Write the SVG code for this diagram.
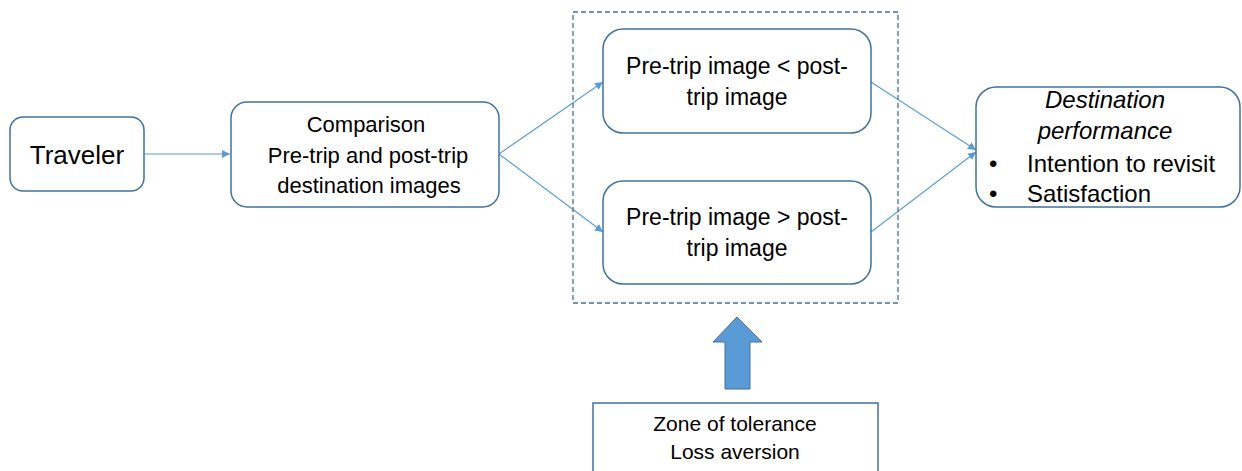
<svg xmlns="http://www.w3.org/2000/svg" width="1242" height="471" viewBox="0 0 1242 471">
<style>
.box{fill:#fff;stroke:#41719c;stroke-width:1.5}
.t{font-family:"Liberation Sans",Arial,sans-serif;fill:#000;text-anchor:middle}
.c{fill:none;stroke:#5b9bd5;stroke-width:1.1}
</style>
<defs>
<marker id="ah" viewBox="0 0 10 10" refX="10" refY="5" markerWidth="8" markerHeight="8" markerUnits="userSpaceOnUse" orient="auto">
<path d="M0,0 L10,5 L0,10 z" fill="#5b9bd5"/>
</marker>
</defs>
<rect width="1242" height="471" fill="#fff"/>
<g id="connectors">
<line class="c" x1="144" y1="154" x2="230" y2="154" marker-end="url(#ah)"/>
<line class="c" x1="499" y1="154" x2="603" y2="82" marker-end="url(#ah)"/>
<line class="c" x1="499" y1="154" x2="603" y2="232" marker-end="url(#ah)"/>
<line class="c" x1="871" y1="82" x2="976" y2="150" marker-end="url(#ah)"/>
<line class="c" x1="871" y1="232" x2="976" y2="152" marker-end="url(#ah)"/>
<path d="M737,317 L762,342 L750,342 L750,389 L725,389 L725,342 L713,342 Z" fill="#5b9bd5" stroke="#41719c" stroke-width="1"/>
</g>
<g id="group-dashed">
<rect x="573" y="12" width="325" height="291" fill="none" stroke="#41719c" stroke-width="1.3" stroke-dasharray="5,3"/>
</g>
<g id="traveler">
<rect class="box" x="10" y="117" width="134" height="74" rx="13"/>
<text class="t" x="77" y="164" font-size="26">Traveler</text>
</g>
<g id="comparison">
<rect class="box" x="231" y="102" width="268" height="105" rx="16"/>
<text class="t" x="366" y="132" font-size="22">Comparison</text>
<text class="t" x="368" y="163" font-size="22">Pre-trip and post-trip</text>
<text class="t" x="369" y="193" font-size="22">destination images</text>
</g>
<g id="pre-less">
<rect class="box" x="603" y="29" width="268" height="104" rx="20"/>
<text class="t" x="737" y="74" font-size="23">Pre-trip image &lt; post-</text>
<text class="t" x="737" y="105" font-size="23">trip image</text>
</g>
<g id="pre-greater">
<rect class="box" x="603" y="181" width="268" height="103" rx="20"/>
<text class="t" x="737" y="225" font-size="23">Pre-trip image &gt; post-</text>
<text class="t" x="737" y="256" font-size="23">trip image</text>
</g>
<g id="destination">
<rect class="box" x="976" y="87" width="264" height="120" rx="20"/>
<text class="t" x="1105" y="108" font-size="24" font-style="italic">Destination</text>
<text class="t" x="1105" y="139" font-size="24" font-style="italic">performance</text>
<text x="989" y="172" font-size="24" font-family="Liberation Sans,Arial,sans-serif">•</text>
<text x="1027" y="172" font-size="24" font-family="Liberation Sans,Arial,sans-serif">Intention to revisit</text>
<text x="989" y="202" font-size="24" font-family="Liberation Sans,Arial,sans-serif">•</text>
<text x="1027" y="202" font-size="24" font-family="Liberation Sans,Arial,sans-serif">Satisfaction</text>
</g>
<g id="tolerance">
<rect class="box" x="593" y="403" width="285" height="80"/>
<text class="t" x="735" y="431" font-size="21">Zone of tolerance</text>
<text class="t" x="735" y="459" font-size="21">Loss aversion</text>
</g>
</svg>
